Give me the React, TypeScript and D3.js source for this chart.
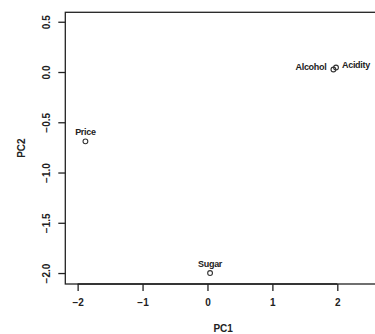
import React, {useEffect, useRef} from 'react';
import * as d3 from 'd3';

// loadings on the first two principal components
const variables = ['Alcohol', 'Acidity', 'Price', 'Sugar'];
const pc1 = [1.94, 1.98, -1.88, 0.04];
const pc2 = [0.025, 0.045, -0.69, -2.0];

const xTicks = [-2, -1, 0, 1, 2];
const yTicks = [0.5, 0, -0.5, -1, -1.5, -2];
const xTickLabels = ['\u22122', '\u22121', '0', '1', '2'];
const yTickLabels = ['0.5', '0.0', '\u22120.5', '\u22121.0', '\u22121.5', '\u22122.0'];

const labelSide = {Alcohol: 'left', Acidity: 'right', Price: 'top', Sugar: 'top'};

const App = () => {
    const svgRef = useRef(null);

    useEffect(() => {
        const svg = d3.select(svgRef.current);
        svg.selectAll('*').remove();

        const width = 375;
        const height = 334;
        const box = {left: 65.3, top: 12.3, right: 381, bottom: 284};
        const font = '"Liberation Sans", Arial, sans-serif';
        const ink = '#222';

        const x = d3.scaleLinear().domain([-2.19, 2.673]).range([box.left, box.right]);
        const y = d3.scaleLinear().domain([-2.109, 0.594]).range([box.bottom, box.top]);

        // frame
        svg.append('rect')
            .attr('x', box.left)
            .attr('y', box.top)
            .attr('width', box.right - box.left)
            .attr('height', box.bottom - box.top)
            .attr('fill', 'none')
            .attr('stroke', ink)
            .attr('stroke-width', 1.3);

        // x axis
        const xAxis = svg.append('g').attr('transform', `translate(0,${box.bottom})`);
        xAxis.call(
            d3.axisBottom(x)
                .tickValues(xTicks)
                .tickSize(7)
                .tickPadding(5)
                .tickFormat((d, i) => xTickLabels[i])
        );
        xAxis.select('.domain')
            .attr('d', `M${x(-2)},0H${x(2)}`)
            .attr('stroke', ink)
            .attr('stroke-width', 1.3);
        xAxis.selectAll('.tick line').attr('stroke', ink).attr('stroke-width', 1.3);
        xAxis.selectAll('.tick text')
            .attr('font-family', font)
            .attr('font-size', 10)
            .attr('font-weight', 'bold')
            .attr('fill', ink)
            .attr('dy', '0.95em');

        // y axis
        const yAxis = svg.append('g').attr('transform', `translate(${box.left},0)`);
        yAxis.call(
            d3.axisLeft(y)
                .tickValues(yTicks)
                .tickSize(7)
                .tickFormat((d, i) => yTickLabels[i])
        );
        yAxis.select('.domain').remove();
        yAxis.selectAll('.tick line').attr('stroke', ink).attr('stroke-width', 1.3);
        yAxis.selectAll('.tick text')
            .attr('x', null)
            .attr('dy', null)
            .attr('transform', 'translate(-18.6,0) rotate(-90)')
            .attr('text-anchor', 'middle')
            .attr('dominant-baseline', 'central')
            .attr('font-family', font)
            .attr('font-size', 10)
            .attr('font-weight', 'bold')
            .attr('fill', ink);

        // axis titles
        svg.append('text')
            .attr('x', (box.left + box.right) / 2)
            .attr('y', 328)
            .attr('text-anchor', 'middle')
            .attr('dominant-baseline', 'central')
            .attr('font-family', font)
            .attr('font-size', 10)
            .attr('font-weight', 'bold')
            .attr('fill', ink)
            .text('PC1');

        svg.append('text')
            .attr('transform', `translate(21.7,${(box.top + box.bottom) / 2}) rotate(-90)`)
            .attr('text-anchor', 'middle')
            .attr('dominant-baseline', 'central')
            .attr('font-family', font)
            .attr('font-size', 10)
            .attr('font-weight', 'bold')
            .attr('fill', ink)
            .text('PC2');

        const data = variables.map((name, i) => ({name, px: pc1[i], py: pc2[i]}));

        // points
        svg.append('g')
            .selectAll('circle')
            .data(data)
            .join('circle')
            .attr('cx', (d) => x(d.px))
            .attr('cy', (d) => y(d.py))
            .attr('r', 2.4)
            .attr('fill', 'none')
            .attr('stroke', '#333')
            .attr('stroke-width', 1.1);

        // labels
        svg.append('g')
            .selectAll('text')
            .data(data)
            .join('text')
            .attr('x', (d) => {
                const side = labelSide[d.name];
                if (side === 'left') return x(d.px) - 7;
                if (side === 'right') return x(d.px) + 6;
                return x(d.px);
            })
            .attr('y', (d) => {
                const side = labelSide[d.name];
                if (side === 'top') return y(d.py) - 9.5;
                return y(d.py) - 2;
            })
            .attr('text-anchor', (d) => {
                const side = labelSide[d.name];
                if (side === 'left') return 'end';
                if (side === 'right') return 'start';
                return 'middle';
            })
            .attr('dominant-baseline', 'central')
            .attr('font-family', font)
            .attr('font-size', 9)
            .attr('font-weight', 'bold')
            .attr('letter-spacing', -0.3)
            .attr('fill', ink)
            .text((d) => d.name);
    }, []);

    return (
        <svg
            ref={svgRef}
            width={375}
            height={334}
            style={{position: 'absolute', left: 0, top: 0, display: 'block', background: '#fff'}}
        />
    );
};

export default App;
